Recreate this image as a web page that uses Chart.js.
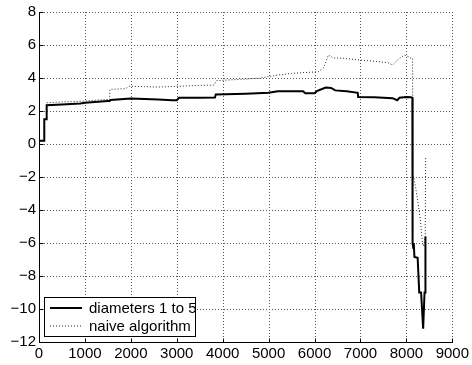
<!DOCTYPE html>
<html><head><meta charset="utf-8">
<script src="https://cdn.jsdelivr.net/npm/chart.js@4"></script>
<style>html,body{margin:0;padding:0;background:#fff}#wrap{width:472px;height:365px}</style>
</head><body><div id="wrap"><canvas id="c" width="472" height="365"></canvas></div>
<script>
const xTicks = [0,1000,2000,3000,4000,5000,6000,7000,8000,9000];
const yTicks = [-12,-10,-8,-6,-4,-2,0,2,4,6,8];
const seriesLabels = ['diameters 1 to 5','naive algorithm'];

const diamX = [0,110,115,160,167,500,900,1000,1500,1540,1560,2000,2600,2900,3000,3050,3500,3830,3850,4500,5000,5200,5750,5800,6000,6050,6230,6250,6360,6450,6700,6940,6950,7300,7700,7800,7850,8000,8100,8130,8135,8150,8160,8175,8245,8280,8320,8365,8395,8410,8415];
const diamY = [0.2,0.2,1.5,1.5,2.35,2.4,2.45,2.5,2.6,2.6,2.67,2.75,2.7,2.65,2.65,2.8,2.8,2.82,3.0,3.05,3.1,3.2,3.2,3.07,3.07,3.2,3.41,3.42,3.4,3.25,3.2,3.1,2.85,2.83,2.78,2.65,2.8,2.85,2.83,2.8,-6.0,-6.3,-6.0,-6.85,-6.9,-9.0,-9.0,-11.2,-9.0,-9.0,-5.6];

const naiveX = [167,500,1000,1320,1500,1536,1545,1880,1970,2600,3050,3500,3800,3870,4780,5200,5500,6080,6190,6230,6300,6400,6620,6945,7160,7380,7590,7700,7810,7955,8050,8098,8135,8140,8200,8250,8300,8350,8380,8410,8420];
const naiveY = [2.5,2.55,2.6,2.67,2.7,2.68,3.31,3.35,3.5,3.45,3.5,3.55,3.57,3.84,3.98,4.18,4.28,4.38,4.6,4.85,5.39,5.22,5.2,5.1,5.05,4.99,4.93,4.79,5.1,5.39,5.29,5.2,5.2,-1.8,-2.6,-3.5,-4.5,-6.0,-6.2,-5.6,-0.8];

const FONT = '"Liberation Sans", Arial, Helvetica, sans-serif';
const toPts = (xs, ys) => xs.map((x, i) => ({x: x, y: ys[i]}));
const fmt = v => String(v).replace('-', '\u2212');

const axesFrame = {
  id: 'axesFrame',
  beforeDatasetsDraw(chart) {
    const ctx = chart.ctx, a = chart.chartArea;
    const xs = chart.scales.x, ys = chart.scales.y;
    const t = Math.round(a.top), b = Math.round(a.bottom), l = Math.round(a.left), r = Math.round(a.right);
    ctx.save();
    ctx.fillStyle = '#555';
    xTicks.forEach(v => {
      if (v === xTicks[0]) return;
      const px = Math.round(xs.getPixelForValue(v));
      for (let y = t; y < b; y += 3) ctx.fillRect(px, y, 1, 1);
    });
    yTicks.forEach(v => {
      if (v === yTicks[0]) return;
      const py = Math.round(ys.getPixelForValue(v));
      for (let x = l + 2; x <= r; x += 3) ctx.fillRect(x, py, 1, 1);
    });
    ctx.restore();
  },
  afterDraw(chart) {
    const ctx = chart.ctx, a = chart.chartArea;
    const xs = chart.scales.x, ys = chart.scales.y;
    ctx.save();
    ctx.strokeStyle = '#000';
    ctx.lineWidth = 1;
    ctx.setLineDash([]);
    ctx.beginPath();
    const l = Math.round(a.left) + 0.5, b = Math.round(a.bottom) + 0.5;
    ctx.moveTo(l, Math.round(a.top)); ctx.lineTo(l, b); ctx.lineTo(Math.round(a.right) + 1, b);
    xTicks.forEach(v => {
      const px = Math.round(xs.getPixelForValue(v)) + 0.5;
      ctx.moveTo(px, b); ctx.lineTo(px, b - 4);
    });
    yTicks.forEach(v => {
      const py = Math.round(ys.getPixelForValue(v)) + 0.5;
      ctx.moveTo(l, py); ctx.lineTo(l + 4, py);
    });
    ctx.stroke();
    ctx.restore();
  }
};

const boxLegend = {
  id: 'boxLegend',
  afterDraw(chart) {
    const ctx = chart.ctx, a = chart.chartArea;
    const bx = a.left + 5, bw = 151, bh = 39, by = a.bottom - 6 - bh;
    ctx.save();
    ctx.fillStyle = '#fff';
    ctx.fillRect(bx, by, bw, bh);
    ctx.strokeStyle = '#000';
    ctx.lineWidth = 1;
    ctx.setLineDash([]);
    ctx.strokeRect(bx + 0.5, by + 0.5, bw, bh);
    chart.data.datasets.forEach((ds, i) => {
      const ly = by + 11 + i * 18;
      ctx.beginPath();
      ctx.strokeStyle = ds.borderColor;
      ctx.lineWidth = ds.borderWidth;
      ctx.setLineDash(ds.borderDash || []);
      ctx.moveTo(bx + 6, ly); ctx.lineTo(bx + 38, ly);
      ctx.stroke();
      ctx.setLineDash([]);
      ctx.fillStyle = '#000';
      ctx.font = '15px ' + FONT;
      ctx.textBaseline = 'middle';
      ctx.textAlign = 'left';
      ctx.fillText(ds.label, bx + 45, ly + 0.5);
    });
    ctx.restore();
  }
};

new Chart(document.getElementById('c'), {
  type: 'line',
  data: {
    datasets: [
      {label: seriesLabels[0], data: toPts(diamX, diamY), borderColor: '#000', borderWidth: 2, pointRadius: 0, tension: 0, fill: false},
      {label: seriesLabels[1], data: toPts(naiveX, naiveY), borderColor: '#222', borderWidth: 1, borderDash: [1, 2], pointRadius: 0, tension: 0, fill: false}
    ]
  },
  options: {
    responsive: false,
    animation: false,
    devicePixelRatio: 1,
    layout: {padding: {top: 12, right: 17, left: 0, bottom: 0}},
    plugins: {legend: {display: false}, tooltip: {enabled: false}},
    scales: {
      x: {
        type: 'linear', min: 0, max: 9000,
        afterBuildTicks: s => { s.ticks = xTicks.map(v => ({value: v})); },
        afterFit: s => { s.height = 23; },
        grid: {display: false, drawTicks: false},
        border: {display: false},
        ticks: {color: '#000', padding: 3, maxRotation: 0, autoSkip: false, font: {family: FONT, size: 15}, callback: v => fmt(v)}
      },
      y: {
        type: 'linear', min: -12, max: 8,
        afterBuildTicks: s => { s.ticks = yTicks.map(v => ({value: v})); },
        afterFit: s => { s.width = 39; },
        grid: {display: false, drawTicks: false},
        border: {display: false},
        ticks: {color: '#000', padding: 3, autoSkip: false, font: {family: FONT, size: 15}, callback: v => fmt(v)}
      }
    }
  },
  plugins: [axesFrame, boxLegend]
});
</script>
</body></html>
